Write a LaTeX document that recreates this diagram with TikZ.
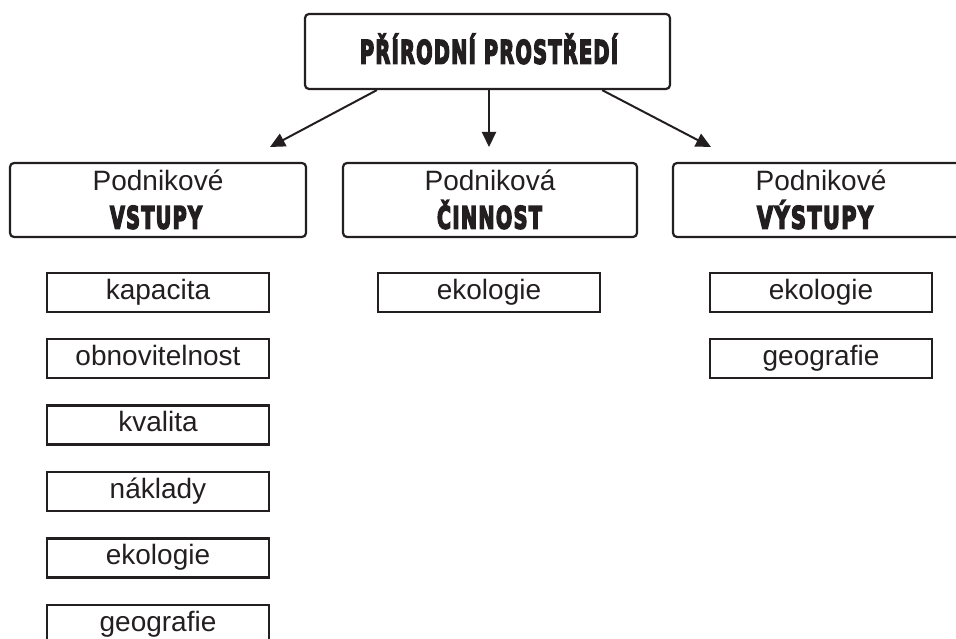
\documentclass[tikz,border=0pt]{standalone}
\usepackage{fontspec}
\usepackage{graphicx}
\setmainfont{Liberation Sans}
\newfontfamily\heavyfont{DejaVu Sans}[UprightFont=* Bold, FakeBold=6, LetterSpace=7]
\usetikzlibrary{arrows.meta}
\definecolor{ink}{HTML}{231F20}
% condensed heavy caption squeezed to a given width
\newcommand\heavycap[2]{\resizebox{#1}{\height}{\heavyfont #2}}

\begin{document}
\begin{tikzpicture}[x=1pt,y=-1pt,
  topbox/.style={draw=ink, line width=2.2pt, rounded corners=4pt,
    minimum width=365pt, minimum height=75pt, inner sep=0pt},
  headbox/.style={draw=ink, line width=2.2pt, rounded corners=4pt,
    minimum width=296pt, minimum height=74pt, inner sep=0pt},
  itembox/.style={draw=ink, line width=2.2pt,
    minimum width=222pt, minimum height=39pt, inner sep=0pt},
  txt/.style={anchor=base, inner sep=0pt, text=ink,
    font=\fontsize{28}{28}\selectfont},
  captxt/.style={anchor=base, inner sep=0pt, text=ink,
    font=\fontsize{30.5}{30}\selectfont},
  arr/.style={draw=ink, line width=2pt,
    -{Triangle[length=15pt,width=14pt]}}]
\useasboundingbox (0,0) rectangle (956,639);

% root
\node[topbox] (top) at (487.5,51.5) {};
\node[captxt, font=\fontsize{32}{32}\selectfont] (topcap) at (489,63.5)
  {\heavycap{258pt}{PŘÍRODNÍ PROSTŘEDÍ}};

% three branches
\node[headbox] (vst) at (158,200) {};
\node[txt] (vst1) at (158,191) {Podnikové};
\node[captxt] (vst2) at (156,228.5) {\heavycap{92pt}{VSTUPY}};

\node[headbox, minimum width=294pt] (cin) at (490,200) {};
\node[txt] (cin1) at (490,191) {Podniková};
\node[captxt] (cin2) at (489.5,228.5) {\heavycap{105pt}{ČINNOST}};

\node[headbox] (vys) at (821,200) {};
\node[txt] (vys1) at (821,191) {Podnikové};
\node[captxt] (vys2) at (815,228.5) {\heavycap{116pt}{VÝSTUPY}};

% arrows from the root
\coordinate (tipL) at (270,147);
\coordinate (tipM) at (489,147);
\coordinate (tipR) at (711,147);
\draw[arr] ([xshift=73pt]top.south west) -- (tipL);
\draw[arr] ([xshift=1.5pt]top.south) -- (tipM);
\draw[arr] ([xshift=-69pt]top.south east) -- (tipR);

% inputs
\foreach \name/\word/\y in {in1/kapacita/292.5, in2/obnovitelnost/358.5,
    in3/kvalita/425, in4/náklady/491.5, in5/ekologie/558, in6/geografie/624.5}{
  \node[itembox] (\name) at (158,\y) {};
  \node[txt] (\name t) at (158,\y+6.5) {\word};
}

% activity
\node[itembox] (act1) at (489,292.5) {};
\node[txt] (act1t) at (489,299) {ekologie};

% outputs
\node[itembox] (out1) at (821,292.5) {};
\node[txt] (out1t) at (821,299) {ekologie};
\node[itembox] (out2) at (821,358.5) {};
\node[txt] (out2t) at (821,365) {geografie};
\end{tikzpicture}
\end{document}
